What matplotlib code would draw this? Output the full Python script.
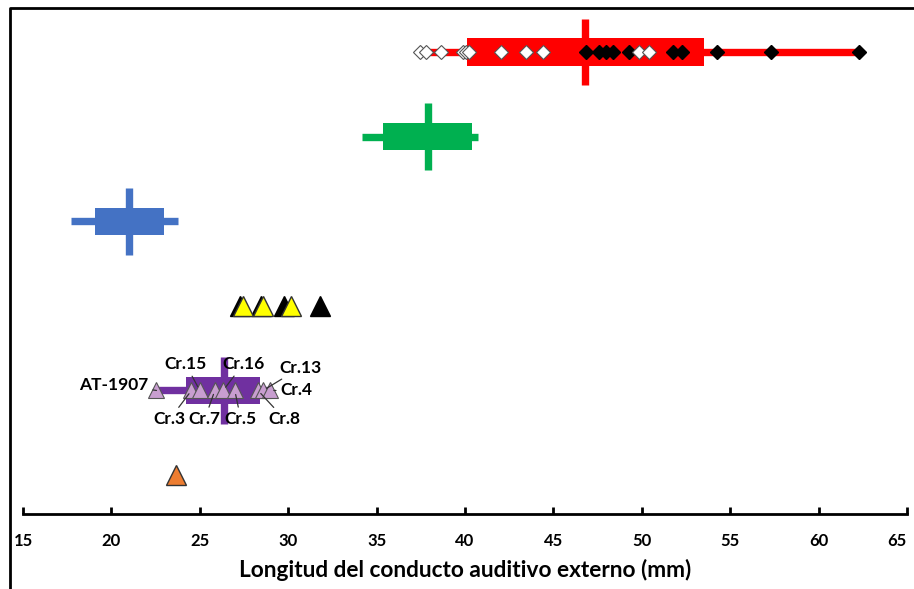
import matplotlib
matplotlib.use('Agg')
from matplotlib import pyplot as plt
from matplotlib.lines import Line2D

plt.rcParams['font.family'] = ['Lato', 'DejaVu Sans']
plt.rcParams['font.weight'] = 'bold'

# summary bars: row, min, q1, median, q3, max, colour
rows = [6, 5, 4, 2]
lows = [38.0, 34.15, 17.7, 22.57]
q1s = [40.1, 35.34, 19.07, 24.2]
medians = [46.8, 37.88, 20.99, 26.35]
q3s = [53.5, 40.42, 22.97, 28.4]
highs = [62.3, 40.76, 23.76, 29.0]
colors = ['#ff0000', '#00b050', '#4472c4', '#7030a0']

# red row individual values
red_white = [37.43, 37.81, 38.62, 39.88, 40.07, 40.25, 42.05, 43.46, 44.44, 49.86, 50.42]
red_black = [46.85, 47.6, 47.98, 48.35, 49.29, 51.74, 52.27, 54.28, 57.33, 62.29]

# triangle row
tri_black = [27.26, 28.45, 29.75, 31.78]
tri_yellow = [27.43, 28.56, 30.14]

# purple row specimens
spec_names = ['AT-1907', 'Cr.3', 'Cr.15', 'Cr.7', 'Cr.16', 'Cr.5', 'Cr.8', 'Cr.13', 'Cr.4']
spec_x = [22.55, 24.53, 25.0, 25.85, 26.32, 26.98, 28.29, 28.58, 28.95]
label_x = [20.15, 23.3, 24.2, 25.28, 27.45, 27.32, 29.8, 30.7, 30.45]
label_y = [2.07, 1.66, 2.31, 1.66, 2.31, 1.66, 1.66, 2.27, 2.0]

orange_x = [23.64]

fig = plt.figure(figsize=(9.14, 5.89), dpi=100)
ax = fig.add_axes([23 / 914, 75 / 589, 884 / 914, 506 / 589])

for r, lo, a, m, b, hi, c in zip(rows, lows, q1s, medians, q3s, highs, colors):
    ax.hlines(r, lo, hi, color=c, linewidth=5.3, zorder=1)
    ax.barh(r, b - a, left=a, height=0.32, color=c, zorder=2)
    ax.vlines(m, r - 0.395, r + 0.395, color=c, linewidth=5.3, zorder=3)

ax.plot(red_black, [6] * len(red_black), 'D', ms=7.5, color='black', zorder=4)
ax.plot(red_white, [6] * len(red_white), 'D', ms=7.5, mfc='white', mec='#555555', mew=0.8, zorder=5)

ax.plot(tri_black, [3] * len(tri_black), '^', ms=15, color='black', zorder=4)
ax.plot(tri_yellow, [3] * len(tri_yellow), '^', ms=15, mfc='#ffff00', mec='#333333', mew=1, zorder=5)

ax.plot(spec_x, [2] * len(spec_x), '^', ms=11.5, mfc='#c89ed0', mec='#555555', mew=0.8, zorder=5)
for name, sx, lx, ly in zip(spec_names, spec_x, label_x, label_y):
    ax.annotate(name, xy=(sx, 2.0), xytext=(lx, ly), ha='center', va='center',
                fontsize=12.5, fontweight='bold',
                arrowprops=dict(arrowstyle='-', color='#333333', lw=0.9, shrinkA=1, shrinkB=3),
                zorder=6)

ax.plot(orange_x, [1], '^', ms=15, mfc='#ed7d31', mec='#333333', mew=1, zorder=5)

ax.set_xlim(15, 65)
ax.set_ylim(0.54, 6.52)
ax.set_xticks(range(15, 70, 5))
ax.set_yticks([])
for s in ['top', 'left', 'right']:
    ax.spines[s].set_visible(False)
ax.spines['bottom'].set_linewidth(2)
ax.tick_params(axis='x', direction='in', length=5, width=2, pad=14, labelsize=12)
ax.set_xlabel('Longitud del conducto auditivo externo (mm)', fontsize=16.3, fontweight='bold', labelpad=7)
last = ax.get_xticklabels()[-1]
last.set_horizontalalignment('right')
last.set_x(64.9)

# figure frame (left and top edges)
fig.add_artist(Line2D([9.5 / 914, 9.5 / 914, 1], [0, 1 - 7.5 / 589, 1 - 7.5 / 589],
                      transform=fig.transFigure, color='black', lw=2))

fig.savefig('out.png', dpi=100)
